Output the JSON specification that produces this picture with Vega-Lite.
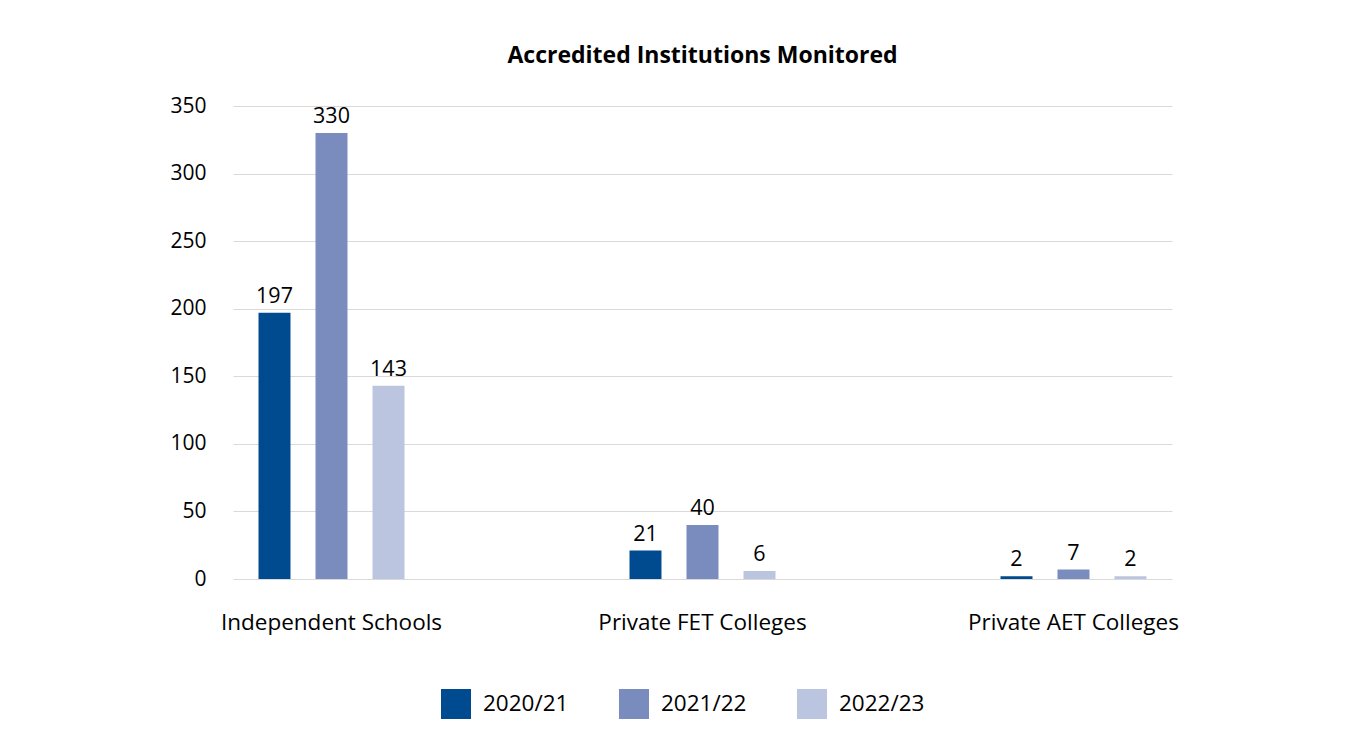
{
  "$schema": "https://vega.github.io/schema/vega-lite/v6.json",
  "width": 939,
  "height": 473,
  "padding": {"left": 10, "top": 45, "right": 10, "bottom": 5},
  "background": "white",
  "title": {
    "text": "Accredited Institutions Monitored",
    "fontSize": 23,
    "fontWeight": "bold",
    "font": "Open Sans",
    "color": "#000000",
    "anchor": "middle",
    "offset": 27
  },
  "data": {
    "values": [
      {"category": "Independent Schools", "year": "2020/21", "value": 197},
      {"category": "Independent Schools", "year": "2021/22", "value": 330},
      {"category": "Independent Schools", "year": "2022/23", "value": 143},
      {"category": "Private FET Colleges", "year": "2020/21", "value": 21},
      {"category": "Private FET Colleges", "year": "2021/22", "value": 40},
      {"category": "Private FET Colleges", "year": "2022/23", "value": 6},
      {"category": "Private AET Colleges", "year": "2020/21", "value": 2},
      {"category": "Private AET Colleges", "year": "2021/22", "value": 7},
      {"category": "Private AET Colleges", "year": "2022/23", "value": 2}
    ]
  },
  "encoding": {
    "x": {
      "field": "category",
      "type": "nominal",
      "sort": ["Independent Schools", "Private FET Colleges", "Private AET Colleges"],
      "scale": {"paddingInner": 0.469, "paddingOuter": 0},
      "axis": {
        "title": null,
        "labelAngle": 0,
        "labelFontSize": 22.5,
        "labelFont": "Open Sans",
        "labelColor": "#000000",
        "labelPadding": 32,
        "labelLimit": 0,
        "ticks": false,
        "domain": false
      }
    },
    "xOffset": {
      "field": "year",
      "type": "nominal",
      "scale": {"paddingInner": 0.439, "paddingOuter": 0.4475}
    },
    "y": {
      "field": "value",
      "type": "quantitative",
      "scale": {"domain": [0, 350], "nice": false},
      "axis": {
        "title": null,
        "values": [0, 50, 100, 150, 200, 250, 300, 350],
        "labelFontSize": 21,
        "labelFont": "Open Sans",
        "labelColor": "#000000",
        "labelPadding": 27,
        "ticks": false,
        "domain": false,
        "gridColor": "#d9d9d9",
        "gridWidth": 1.2,
        "minExtent": 223,
        "maxExtent": 223
      }
    }
  },
  "layer": [
    {
      "mark": {"type": "bar"},
      "encoding": {
        "color": {
          "field": "year",
          "type": "nominal",
          "scale": {
            "domain": ["2020/21", "2021/22", "2022/23"],
            "range": ["#004a8f", "#7a8bbd", "#bcc5df"]
          },
          "legend": {
            "title": null,
            "orient": "none",
            "legendX": 208,
            "legendY": 583,
            "direction": "horizontal",
            "symbolType": "square",
            "symbolSize": 900,
            "symbolStrokeWidth": 0,
            "labelFontSize": 22.5,
            "labelFont": "Open Sans",
            "labelColor": "#000000",
            "columnPadding": 50,
            "labelOffset": 12
          }
        }
      }
    },
    {
      "mark": {"type": "text", "baseline": "bottom", "dy": -5, "fontSize": 21.5, "font": "Open Sans", "color": "#000000"},
      "encoding": {
        "text": {"field": "value", "type": "quantitative"}
      }
    }
  ],
  "config": {
    "view": {"stroke": null}
  }
}
